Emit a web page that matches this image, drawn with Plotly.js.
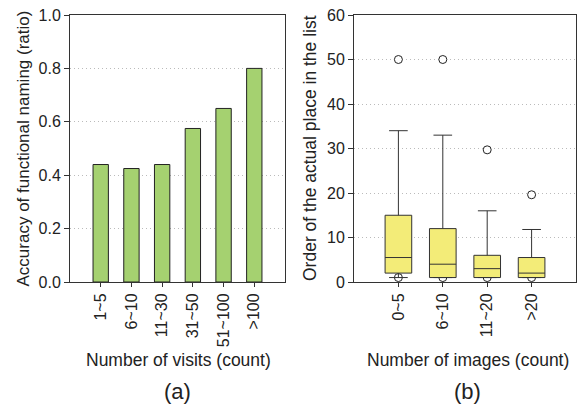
<!DOCTYPE html>
<html>
<head>
<meta charset="utf-8">
<script src="https://cdn.plot.ly/plotly-3.0.1.min.js"></script>
<style>html,body{margin:0;padding:0;background:#fff;}#chart{width:580px;height:404px;}</style>
</head>
<body>
<div id="chart"></div>
<script>
// Panel (a): bar chart
const visitCategories = ["1~5", "6~10", "11~30", "31~50", "51~100", ">100"];
const accuracyValues = [0.44, 0.425, 0.44, 0.575, 0.65, 0.8];

// Panel (b): box plot (precomputed statistics)
const imageCategories = ["0~5", "6~10", "11~20", ">20"];
const boxQ1 = [2, 1, 1, 1];
const boxMedian = [5.5, 4, 3, 2];
const boxQ3 = [15, 12, 6, 5.5];
const boxLower = [1, 1, 1, 1];
const boxUpper = [34, 33, 16, 11.8];
const outlierCategories = ["0~5", "0~5", "6~10", "6~10", "11~20", "11~20", ">20", ">20"];
const outlierValues = [50, 1, 50, 1, 29.7, 1, 19.6, 1];

const W = 580, H = 404;
const px = v => v / W;
const py = v => 1 - v / H;
const FONT = "Liberation Sans";
const TXT = "#222";

const data = [
  {
    type: "bar",
    x: visitCategories,
    y: accuracyValues,
    xaxis: "x", yaxis: "y",
    marker: {color: "#a5d170", line: {color: "#222", width: 1}},
    showlegend: false
  },
  {
    type: "box",
    x: outlierCategories,
    y: outlierValues,
    xaxis: "x2", yaxis: "y2",
    boxpoints: "all", jitter: 0, pointpos: 0,
    fillcolor: "rgba(0,0,0,0)",
    line: {color: "rgba(0,0,0,0)", width: 0},
    marker: {symbol: "circle", size: 8, color: "#fff", line: {color: "#222", width: 1}},
    showlegend: false
  },
  {
    type: "box",
    x: imageCategories,
    q1: boxQ1, median: boxMedian, q3: boxQ3,
    lowerfence: boxLower, upperfence: boxUpper,
    xaxis: "x2", yaxis: "y2",
    boxpoints: false,
    width: 0.6,
    whiskerwidth: 0.7,
    fillcolor: "#f3ec78",
    line: {color: "#333", width: 1},
    showlegend: false
  }
];

const axisCommon = {
  showline: true, mirror: true, linecolor: "#333", linewidth: 1,
  ticks: "outside", tickcolor: "#333",
  tickfont: {family: FONT, size: 16, color: TXT},
  zeroline: false, fixedrange: true
};

const layout = {
  width: W, height: H,
  margin: {l: 0, r: 0, t: 0, b: 0},
  paper_bgcolor: "#fff", plot_bgcolor: "#fff",
  font: {family: FONT, color: TXT},
  bargap: 0.5,
  boxmode: "overlay",
  showlegend: false,
  xaxis: Object.assign({}, axisCommon, {
    domain: [px(70), px(285)], anchor: "y",
    type: "category", range: [-1, 6],
    tickangle: -90, ticklen: 4, showgrid: false
  }),
  yaxis: Object.assign({}, axisCommon, {
    domain: [py(282), py(15)], anchor: "x",
    range: [0, 1], tickvals: [0, 0.2, 0.4, 0.6, 0.8, 1.0],
    ticktext: ["0.0", "0.2", "0.4", "0.6", "0.8", "1.0"],
    ticklen: 5, showgrid: true, gridcolor: "#bbb", griddash: "1px,3px", gridwidth: 1
  }),
  xaxis2: Object.assign({}, axisCommon, {
    domain: [px(354), px(576)], anchor: "y2",
    type: "category", range: [-1, 4],
    tickangle: -90, ticklen: 4, showgrid: false
  }),
  yaxis2: Object.assign({}, axisCommon, {
    domain: [py(282), py(15)], anchor: "x2",
    range: [0, 60], tickvals: [0, 10, 20, 30, 40, 50, 60],
    ticklen: 5, showgrid: true, gridcolor: "#bbb", griddash: "1px,3px", gridwidth: 1
  }),
  annotations: [
    {text: "Accuracy of functional naming (ratio)", xref: "paper", yref: "paper",
     x: px(23), y: py(148.5), xanchor: "center", yanchor: "middle", textangle: -90,
     showarrow: false, font: {family: FONT, size: 17, color: TXT}},
    {text: "Order of the actual place in the list", xref: "paper", yref: "paper",
     x: px(309.5), y: py(148.5), xanchor: "center", yanchor: "middle", textangle: -90,
     showarrow: false, font: {family: FONT, size: 17.5, color: TXT}},
    {text: "Number of visits (count)", xref: "paper", yref: "paper",
     x: px(178), y: py(360), xanchor: "center", yanchor: "middle",
     showarrow: false, font: {family: FONT, size: 17.5, color: TXT}},
    {text: "Number of images (count)", xref: "paper", yref: "paper",
     x: px(468), y: py(360), xanchor: "center", yanchor: "middle",
     showarrow: false, font: {family: FONT, size: 17.5, color: TXT}},
    {text: "(a)", xref: "paper", yref: "paper",
     x: px(177.5), y: py(391), xanchor: "center", yanchor: "middle",
     showarrow: false, font: {family: FONT, size: 22, color: TXT}},
    {text: "(b)", xref: "paper", yref: "paper",
     x: px(468), y: py(391), xanchor: "center", yanchor: "middle",
     showarrow: false, font: {family: FONT, size: 22, color: TXT}}
  ]
};

Plotly.newPlot("chart", data, layout, {displayModeBar: false, staticPlot: true});
</script>
</body>
</html>
